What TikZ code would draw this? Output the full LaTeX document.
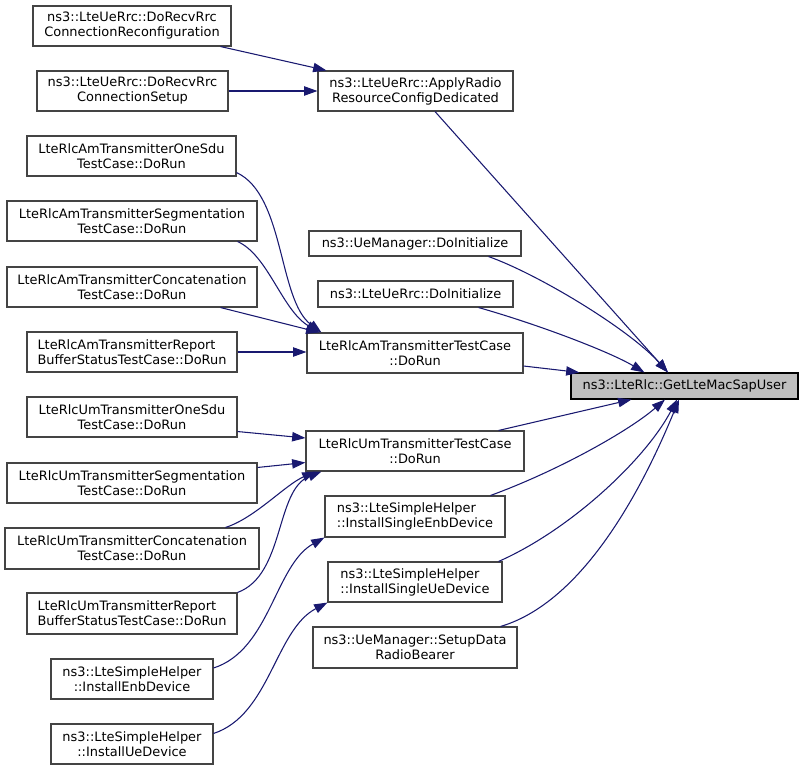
\documentclass[tikz,border=0pt]{standalone}
\usepackage{fontspec}
\setmainfont{DejaVu Sans}
\usetikzlibrary{arrows.meta}
\definecolor{edgec}{HTML}{191970}
\definecolor{boxc}{HTML}{444444}
\definecolor{rootfill}{HTML}{BFBFBF}
\newcommand\bx[7][]{\node[box,#1,minimum width={(#4-#2)*0.75pt},minimum height={(#5-#3)*0.75pt}] (#6) at ({(#2+#4)/2},{(#3+#5)/2}) {#7};}
\begin{document}
\begin{tikzpicture}[x=0.75pt,y=-0.75pt,
  box/.style={draw=boxc,line width=0.8pt,fill=white,inner sep=0pt,align=center,
    font=\fontsize{9.7}{11.25}\selectfont,text=black},
  edge/.style={draw=edgec,line width=0.8pt,-{Triangle[length=10pt,width=7pt]}}]
\useasboundingbox (0,0) rectangle (803,771);
% nodes
\bx{33}{6}{231}{46}{r1}{ns3::LteUeRrc::DoRecvRrc\\ConnectionReconfiguration}
\bx{37}{71}{228}{111}{r2}{ns3::LteUeRrc::DoRecvRrc\\ConnectionSetup}
\bx{318}{71}{513}{111}{ard}{ns3::LteUeRrc::ApplyRadio\\ResourceConfigDedicated}
\bx{27}{136}{236}{176}{a1}{LteRlcAmTransmitterOneSdu\\TestCase::DoRun}
\bx{7}{201}{257}{241}{a2}{LteRlcAmTransmitterSegmentation\\TestCase::DoRun}
\bx{7}{267}{257}{307}{a3}{LteRlcAmTransmitterConcatenation\\TestCase::DoRun}
\bx[align=left]{27}{332}{237}{372}{a4}{LteRlcAmTransmitterReport\\BufferStatusTestCase::DoRun}
\bx{309}{231}{521}{256}{uem}{ns3::UeManager::DoInitialize}
\bx{318}{281}{513}{307}{uer}{ns3::LteUeRrc::DoInitialize}
\bx{307}{333}{523}{373}{amt}{LteRlcAmTransmitterTestCase\\::DoRun}
\bx[fill=rootfill,draw=black]{571}{373}{798}{399}{get}{ns3::LteRlc::GetLteMacSapUser}
\bx{27}{397}{237}{437}{u1}{LteRlcUmTransmitterOneSdu\\TestCase::DoRun}
\bx{7}{463}{257}{503}{u2}{LteRlcUmTransmitterSegmentation\\TestCase::DoRun}
\bx{5}{528}{259}{569}{u3}{LteRlcUmTransmitterConcatenation\\TestCase::DoRun}
\bx[align=left]{27}{593}{237}{634}{u4}{LteRlcUmTransmitterReport\\BufferStatusTestCase::DoRun}
\bx{306}{431}{524}{471}{umt}{LteRlcUmTransmitterTestCase\\::DoRun}
\bx[align=left]{325}{496}{505}{537}{sen}{ns3::LteSimpleHelper\\::InstallSingleEnbDevice}
\bx[align=left]{328}{562}{502}{602}{sue}{ns3::LteSimpleHelper\\::InstallSingleUeDevice}
\bx{313}{627}{517}{668}{sdr}{ns3::UeManager::SetupData\\RadioBearer}
\bx{51}{659}{213}{699}{ien}{ns3::LteSimpleHelper\\::InstallEnbDevice}
\bx{51}{724}{213}{764}{iue}{ns3::LteSimpleHelper\\::InstallUeDevice}
% edges
\draw[edge] ([shift={(-11,0)}]r1.south east) -- ([shift={(9,0)}]ard.north west);
\draw[edge] (r2.east) -- (ard.west);
\draw[edge] ([shift={(19.5,0)}]ard.south) -- ([shift={(-16.5,0)}]get.north);
\draw[edge] ([shift={(0,-4)}]a1.south east) .. controls (285,195) and (278,300) .. ([shift={(15,0)}]amt.north west);
\draw[edge] ([shift={(-20,0)}]a2.south east) .. controls (268,255) and (282,310) .. ([shift={(13,0)}]amt.north west);
\draw[edge] ([shift={(-37,0)}]a3.south east) -- ([shift={(13,0)}]amt.north west);
\draw[edge] (a4.east) -- (amt.west |- a4.east);
\draw[edge] ([shift={(-33,0)}]uem.south east) .. controls (540,275) and (630,330) .. ([shift={(-16.5,0)}]get.north);
\draw[edge] ([shift={(-35,0)}]uer.south east) .. controls (540,325) and (610,352) .. ([shift={(74,0)}]get.north west);
\draw[edge] ([shift={(0,13)}]amt.east) -- ([shift={(9,0)}]get.north west);
\draw[edge] ([shift={(-26,0)}]umt.north east) -- ([shift={(61,0)}]get.south west);
\draw[edge] ([shift={(-15,0)}]sen.north east) .. controls (560,470) and (630,430) .. ([shift={(-19.5,0)}]get.south);
\draw[edge] ([shift={(-4,0)}]sue.north east) .. controls (570,530) and (645,460) .. ([shift={(-7.5,0)}]get.south);
\draw[edge] ([shift={(-17,0)}]sdr.north east) .. controls (590,600) and (650,470) .. ([shift={(-5.5,0)}]get.south);
\draw[edge] ([shift={(0,-6)}]u1.south east) -- ([shift={(0,-13)}]umt.west);
\draw[edge] ([shift={(0,5)}]u2.north east) -- ([shift={(0,-9)}]umt.south west);
\draw[edge] ([shift={(-34,0)}]u3.north east) .. controls (255,518) and (285,485) .. ([shift={(10,0)}]umt.south west);
\draw[edge] (u4.north east) .. controls (285,575) and (275,490) .. ([shift={(16,0)}]umt.south west);
\draw[edge] ([shift={(0,-11)}]ien.east) .. controls (270,650) and (275,565) .. (sen.south west);
\draw[edge] ([shift={(0,10)}]iue.north east) .. controls (270,715) and (275,630) .. (sue.south west);
\end{tikzpicture}
\end{document}
